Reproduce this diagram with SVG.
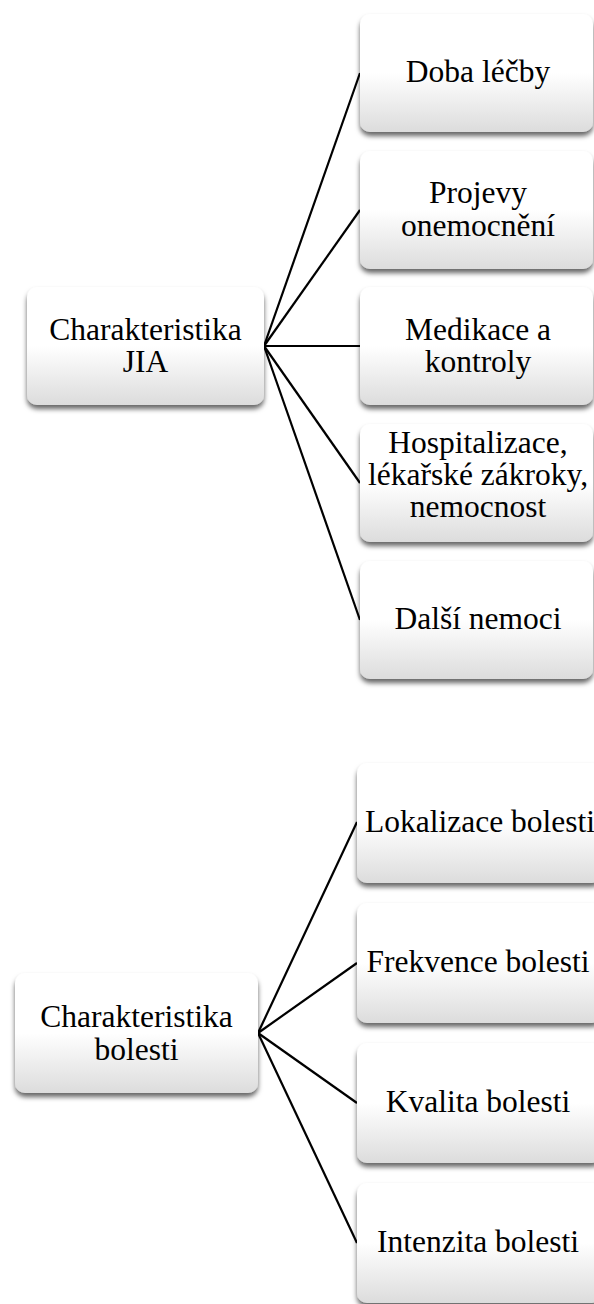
<svg xmlns="http://www.w3.org/2000/svg" width="594" height="1304" viewBox="0 0 594 1304">
<defs>
<linearGradient id="g" x1="0" y1="0" x2="0" y2="1">
<stop offset="0" stop-color="#ffffff"/>
<stop offset="0.5" stop-color="#ffffff"/>
<stop offset="1" stop-color="#dcdcdc"/>
</linearGradient>
<filter id="sh" x="-10%" y="-10%" width="120%" height="130%">
<feDropShadow dx="0" dy="4" stdDeviation="2.5" flood-color="#000" flood-opacity="0.6"/>
</filter>
</defs>
<style>
.box{fill:url(#g);filter:url(#sh);}
.c{stroke:#000;stroke-width:2.2;fill:none;}
</style>
<rect width="594" height="1304" fill="#fff"/>
<g id="connectors">
<line class="c" x1="264" y1="346" x2="360" y2="73"/>
<line class="c" x1="264" y1="346" x2="360" y2="210"/>
<line class="c" x1="264" y1="346" x2="360" y2="346"/>
<line class="c" x1="264" y1="346" x2="360" y2="483"/>
<line class="c" x1="264" y1="346" x2="360" y2="620"/>
<line class="c" x1="258" y1="1033" x2="357" y2="822"/>
<line class="c" x1="258" y1="1033" x2="357" y2="963"/>
<line class="c" x1="258" y1="1033" x2="357" y2="1103"/>
<line class="c" x1="258" y1="1033" x2="357" y2="1243"/>
</g>
<g id="root-jia">
<rect class="box" x="27" y="287" width="237" height="118" rx="10"/>
<text font-family="Liberation Serif" font-size="31.5" text-anchor="middle" x="145.5" y="340">Charakteristika</text>
<text font-family="Liberation Serif" font-size="31.5" text-anchor="middle" x="145.5" y="372">JIA</text>
</g>
<g id="doba">
<rect class="box" x="360" y="14" width="233" height="118" rx="10"/>
<text font-family="Liberation Serif" font-size="31.5" text-anchor="middle" x="478" y="82">Doba léčby</text>
</g>
<g id="projevy">
<rect class="box" x="360" y="151" width="233" height="118" rx="10"/>
<text font-family="Liberation Serif" font-size="31.5" text-anchor="middle" x="478" y="203">Projevy</text>
<text font-family="Liberation Serif" font-size="31.5" text-anchor="middle" x="478" y="236">onemocnění</text>
</g>
<g id="medikace">
<rect class="box" x="360" y="287" width="233" height="118" rx="10"/>
<text font-family="Liberation Serif" font-size="31.5" text-anchor="middle" x="478" y="340">Medikace a</text>
<text font-family="Liberation Serif" font-size="31.5" text-anchor="middle" x="478" y="372">kontroly</text>
</g>
<g id="hospitalizace">
<rect class="box" x="360" y="424" width="233" height="118" rx="10"/>
<text font-family="Liberation Serif" font-size="31.5" text-anchor="middle" x="478" y="453">Hospitalizace,</text>
<text font-family="Liberation Serif" font-size="31.5" text-anchor="middle" x="478" y="485">lékařské zákroky,</text>
<text font-family="Liberation Serif" font-size="31.5" text-anchor="middle" x="478" y="517">nemocnost</text>
</g>
<g id="dalsi">
<rect class="box" x="360" y="561" width="233" height="118" rx="10"/>
<text font-family="Liberation Serif" font-size="31.5" text-anchor="middle" x="478" y="629">Další nemoci</text>
</g>
<g id="root-bolesti">
<rect class="box" x="15" y="973" width="243" height="120" rx="10"/>
<text font-family="Liberation Serif" font-size="31.5" text-anchor="middle" x="136.5" y="1027">Charakteristika</text>
<text font-family="Liberation Serif" font-size="31.5" text-anchor="middle" x="136.5" y="1060">bolesti</text>
</g>
<g id="lokalizace">
<rect class="box" x="357" y="763" width="245" height="120" rx="10"/>
<text font-family="Liberation Serif" font-size="31.5" text-anchor="middle" x="480" y="832">Lokalizace bolesti</text>
</g>
<g id="frekvence">
<rect class="box" x="357" y="903" width="245" height="120" rx="10"/>
<text font-family="Liberation Serif" font-size="31.5" text-anchor="middle" x="478" y="972">Frekvence bolesti</text>
</g>
<g id="kvalita">
<rect class="box" x="357" y="1043" width="245" height="120" rx="10"/>
<text font-family="Liberation Serif" font-size="31.5" text-anchor="middle" x="478" y="1112">Kvalita bolesti</text>
</g>
<g id="intenzita">
<rect class="box" x="357" y="1183" width="245" height="120" rx="10"/>
<text font-family="Liberation Serif" font-size="31.5" text-anchor="middle" x="478" y="1252">Intenzita bolesti</text>
</g>
</svg>
